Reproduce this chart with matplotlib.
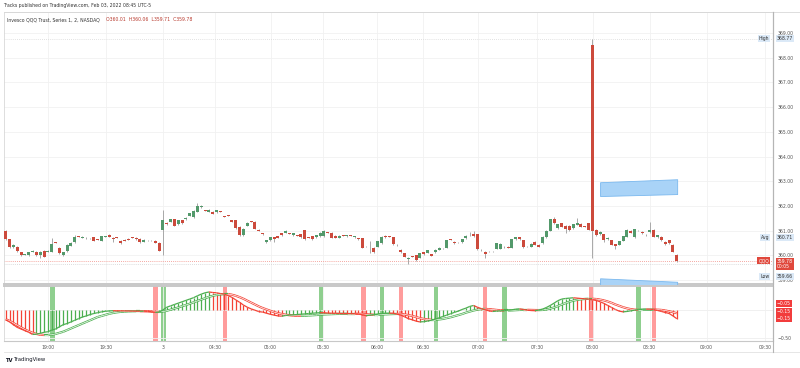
import matplotlib
matplotlib.use('Agg')
import matplotlib.pyplot as plt
from matplotlib.collections import LineCollection
from matplotlib.lines import Line2D
import numpy as np

# 1-minute QQQ candles (index based x axis, like TradingView)
opens = [360.99, 360.66, 360.33, 360.35, 360.13, 360.03, 360.01, 360.14, 360.15, 360.00,
         360.18, 360.14, 360.15, 360.53, 360.30, 360.01, 360.17, 360.38, 360.53, 360.76,
         360.72, 360.70, 360.69, 360.74, 360.65, 360.60, 360.76, 360.83, 360.72, 360.73,
         360.59, 360.64, 360.68, 360.73, 360.72, 360.67, 360.55, 360.62, 360.62, 360.59,
         360.51, 361.03, 361.31, 361.36, 361.46, 361.26, 361.43, 361.47, 361.60, 361.55,
         361.77, 361.95, 361.81, 361.77, 361.77, 361.74, 361.78, 361.58, 361.62, 361.43,
         361.43, 361.16, 360.82, 361.20, 361.37, 361.36, 361.04, 360.89, 360.53, 360.62,
         360.73, 360.77, 360.89, 360.91, 360.89, 360.82, 360.81, 360.85, 361.01, 360.72,
         360.78, 360.73, 360.77, 360.77, 360.92, 360.92, 360.80, 360.72, 360.80, 360.77,
         360.80, 360.73, 360.69, 360.69, 360.35, 360.55, 360.31, 360.35, 360.49, 360.80,
         360.76, 360.73, 360.42, 360.22, 360.08, 359.85, 359.95, 360.01, 359.91, 360.12,
         360.11, 360.05, 360.12, 360.22, 360.28, 360.31, 360.65, 360.54, 360.53, 360.53,
         360.69, 360.82, 360.85, 360.85, 360.22, 360.14, 360.15, 360.15, 360.26, 360.27,
         360.35, 360.35, 360.31, 360.65, 360.73, 360.62, 360.34, 360.34, 360.55, 360.42,
         360.49, 360.74, 360.99, 361.47, 361.09, 361.30, 361.20, 361.20, 361.09, 361.23,
         361.27, 361.17, 361.30, 368.51, 361.03, 360.85, 360.86, 360.65, 360.62, 360.45,
         360.42, 360.59, 360.76, 360.99, 360.73, 361.00, 360.96, 360.83, 360.93, 361.03,
         360.73, 360.76, 360.55, 360.62, 360.42, 360.01]
highs = [361.02, 360.68, 360.44, 360.37, 360.15, 360.06, 360.14, 360.21, 360.17, 360.17,
         360.20, 360.20, 360.69, 360.55, 360.32, 360.14, 360.44, 360.53, 360.82, 360.78,
         360.77, 360.75, 360.72, 360.76, 360.67, 360.79, 360.79, 360.86, 360.74, 360.75,
         360.61, 360.66, 360.70, 360.75, 360.74, 360.69, 360.66, 360.64, 360.64, 360.61,
         360.53, 361.84, 361.33, 361.49, 361.48, 361.45, 361.45, 361.55, 361.72, 361.84,
         362.10, 362.03, 361.83, 361.86, 361.79, 361.84, 361.80, 361.60, 361.64, 361.45,
         361.45, 361.18, 361.09, 361.33, 361.39, 361.38, 361.06, 360.91, 360.64, 360.75,
         360.75, 360.79, 360.91, 361.01, 360.91, 360.91, 360.83, 360.87, 361.03, 360.74,
         360.80, 360.83, 360.93, 361.01, 360.94, 360.94, 360.82, 360.82, 360.82, 360.84,
         360.82, 360.80, 360.71, 360.71, 360.37, 360.56, 360.33, 360.60, 360.78, 360.82,
         360.78, 360.75, 360.44, 360.24, 360.10, 359.93, 359.97, 360.03, 360.10, 360.14,
         360.22, 360.07, 360.25, 360.33, 360.30, 360.64, 360.67, 360.56, 360.55, 360.68,
         360.82, 360.95, 360.97, 360.87, 360.24, 360.16, 360.17, 360.17, 360.51, 360.48,
         360.37, 360.37, 360.68, 360.75, 360.75, 360.64, 360.36, 360.49, 360.57, 360.44,
         360.78, 361.02, 361.49, 361.56, 361.28, 361.32, 361.22, 361.22, 361.28, 361.50,
         361.29, 361.19, 361.32, 368.77, 361.05, 360.98, 360.88, 360.74, 360.64, 360.47,
         360.60, 360.80, 361.05, 361.01, 361.07, 361.02, 360.98, 360.85, 361.36, 361.05,
         360.84, 360.78, 360.57, 360.64, 360.44, 360.06]
lows = [360.62, 360.28, 360.30, 360.15, 359.98, 360.00, 359.99, 360.12, 359.99, 359.88,
        359.92, 360.12, 360.13, 360.48, 360.06, 359.99, 360.15, 360.36, 360.51, 360.73,
        360.70, 360.68, 360.67, 360.58, 360.62, 360.58, 360.74, 360.74, 360.55, 360.70,
        360.47, 360.56, 360.62, 360.71, 360.64, 360.50, 360.53, 360.60, 360.60, 360.48,
        360.16, 360.00, 361.24, 361.34, 361.18, 361.24, 361.28, 361.45, 361.58, 361.53,
        361.75, 361.93, 361.78, 361.75, 361.67, 361.72, 361.75, 361.55, 361.59, 361.34,
        361.07, 360.80, 360.80, 361.18, 361.34, 361.05, 360.97, 360.83, 360.51, 360.60,
        360.53, 360.70, 360.80, 360.89, 360.86, 360.80, 360.78, 360.71, 360.64, 360.69,
        360.63, 360.71, 360.75, 360.75, 360.89, 360.70, 360.70, 360.70, 360.77, 360.75,
        360.77, 360.71, 360.63, 360.29, 360.32, 360.08, 360.10, 360.33, 360.47, 360.71,
        360.73, 360.43, 360.39, 360.10, 359.93, 359.66, 359.92, 359.79, 359.89, 360.02,
        360.09, 359.97, 360.10, 360.20, 360.26, 360.29, 360.62, 360.47, 360.50, 360.51,
        360.67, 360.80, 360.76, 360.22, 360.19, 359.90, 360.12, 360.12, 360.24, 360.25,
        360.30, 360.29, 360.29, 360.63, 360.63, 360.30, 360.32, 360.32, 360.40, 360.33,
        360.47, 360.72, 360.97, 361.28, 361.07, 361.14, 360.90, 360.99, 361.07, 361.21,
        361.14, 361.14, 361.01, 359.90, 360.80, 360.83, 360.55, 360.63, 360.40, 360.24,
        360.40, 360.57, 360.74, 360.90, 360.71, 360.97, 360.87, 360.80, 360.91, 360.74,
        360.71, 360.60, 360.43, 360.47, 360.13, 359.71]
closes = [360.66, 360.35, 360.41, 360.18, 360.00, 360.04, 360.12, 360.18, 360.01, 360.15,
          359.95, 360.18, 360.45, 360.50, 360.08, 360.12, 360.42, 360.51, 360.73, 360.75,
          360.75, 360.72, 360.70, 360.60, 360.64, 360.77, 360.77, 360.76, 360.66, 360.72,
          360.49, 360.58, 360.64, 360.72, 360.66, 360.52, 360.64, 360.61, 360.61, 360.50,
          360.18, 361.44, 361.26, 361.47, 361.20, 361.43, 361.30, 361.53, 361.70, 361.80,
          362.01, 362.01, 361.80, 361.84, 361.69, 361.82, 361.77, 361.57, 361.61, 361.36,
          361.09, 360.82, 361.07, 361.31, 361.36, 361.07, 360.99, 360.85, 360.62, 360.73,
          360.65, 360.72, 360.82, 360.99, 360.88, 360.89, 360.80, 360.73, 360.66, 360.71,
          360.65, 360.81, 360.91, 360.99, 360.91, 360.72, 360.72, 360.80, 360.79, 360.82,
          360.79, 360.78, 360.65, 360.31, 360.34, 360.53, 360.12, 360.58, 360.76, 360.73,
          360.75, 360.45, 360.41, 360.12, 359.95, 359.88, 359.94, 359.81, 360.08, 360.04,
          360.20, 359.99, 360.23, 360.31, 360.28, 360.62, 360.64, 360.49, 360.52, 360.66,
          360.80, 360.82, 360.78, 360.24, 360.21, 360.07, 360.14, 360.14, 360.49, 360.46,
          360.32, 360.31, 360.66, 360.73, 360.65, 360.32, 360.34, 360.47, 360.42, 360.35,
          360.76, 361.00, 361.47, 361.30, 361.26, 361.16, 361.07, 361.01, 361.26, 361.30,
          361.16, 361.16, 361.03, 361.00, 360.82, 360.96, 360.62, 360.72, 360.42, 360.39,
          360.58, 360.78, 361.03, 360.92, 361.05, 360.99, 360.89, 360.82, 361.03, 360.76,
          360.82, 360.62, 360.45, 360.49, 360.15, 359.78]

# lower pane oscillator (histogram + line) and its signal line
osc = [-0.17, -0.21, -0.26, -0.31, -0.34, -0.37, -0.40, -0.44, -0.435, -0.42,
       -0.40, -0.39, -0.36, -0.34, -0.30, -0.26, -0.24, -0.21, -0.18, -0.15,
       -0.12, -0.10, -0.075, -0.055, -0.04, -0.025, -0.015, -0.008, -0.004, -0.005,
       -0.006, -0.008, -0.01, -0.011, -0.012, -0.014, -0.013, -0.016, -0.02, -0.035,
       -0.03, 0.01, 0.06, 0.085, 0.11, 0.135, 0.16, 0.185, 0.21, 0.235,
       0.27, 0.30, 0.325, 0.34, 0.33, 0.325, 0.31, 0.30, 0.275, 0.24,
       0.195, 0.15, 0.10, 0.06, 0.03, 0.005, -0.02, -0.03, -0.05, -0.07,
       -0.085, -0.10, -0.105, -0.092, -0.085, -0.08, -0.074, -0.068, -0.062, -0.056,
       -0.05, -0.045, -0.04, -0.042, -0.046, -0.05, -0.052, -0.055, -0.056, -0.057,
       -0.058, -0.06, -0.065, -0.08, -0.095, -0.085, -0.075, -0.065, -0.055, -0.05,
       -0.048, -0.05, -0.065, -0.085, -0.115, -0.15, -0.17, -0.195, -0.21, -0.205,
       -0.195, -0.18, -0.16, -0.135, -0.11, -0.085, -0.06, -0.035, -0.012, 0.018,
       0.043, 0.074, 0.092, 0.06, 0.035, 0.012, -0.006, -0.018, -0.012, -0.006,
       0.0, 0.006, 0.012, 0.025, 0.03, 0.018, 0.006, 0.0, -0.002, 0.006,
       0.025, 0.055, 0.092, 0.135, 0.18, 0.21, 0.22, 0.227, 0.233, 0.227,
       0.22, 0.215, 0.21, 0.196, 0.184, 0.16, 0.13, 0.092, 0.055, 0.018,
       -0.012, -0.025, -0.018, -0.006, 0.006, 0.018, 0.025, 0.026, 0.024, 0.018,
       0.0, -0.018, -0.037, -0.055, -0.10, -0.15]
signal = [-0.16, -0.19, -0.23, -0.27, -0.31, -0.35, -0.38, -0.41, -0.43, -0.445,
          -0.45, -0.45, -0.445, -0.43, -0.41, -0.39, -0.36, -0.33, -0.30, -0.27,
          -0.24, -0.21, -0.18, -0.15, -0.12, -0.10, -0.08, -0.06, -0.045, -0.033,
          -0.025, -0.02, -0.016, -0.014, -0.013, -0.013, -0.014, -0.016, -0.02, -0.025,
          -0.027, -0.02, -0.005, 0.015, 0.035, 0.055, 0.08, 0.10, 0.125, 0.15,
          0.175, 0.20, 0.225, 0.25, 0.27, 0.285, 0.295, 0.30, 0.30, 0.29,
          0.27, 0.245, 0.215, 0.18, 0.145, 0.11, 0.075, 0.045, 0.02, -0.005,
          -0.03, -0.05, -0.065, -0.078, -0.087, -0.093, -0.097, -0.098, -0.096, -0.092,
          -0.088, -0.083, -0.078, -0.073, -0.07, -0.067, -0.064, -0.062, -0.061, -0.06,
          -0.06, -0.06, -0.061, -0.064, -0.07, -0.075, -0.077, -0.077, -0.075, -0.072,
          -0.068, -0.065, -0.063, -0.065, -0.072, -0.085, -0.10, -0.12, -0.14, -0.155,
          -0.165, -0.17, -0.17, -0.165, -0.155, -0.14, -0.125, -0.105, -0.085, -0.065,
          -0.04, -0.02, 0.0, 0.015, 0.025, 0.028, 0.025, 0.018, 0.01, 0.004,
          0.0, 0.0, 0.002, 0.006, 0.01, 0.012, 0.012, 0.01, 0.008, 0.007,
          0.01, 0.02, 0.035, 0.055, 0.08, 0.11, 0.135, 0.16, 0.18, 0.195,
          0.205, 0.212, 0.215, 0.215, 0.21, 0.20, 0.185, 0.165, 0.14, 0.11,
          0.085, 0.06, 0.04, 0.025, 0.015, 0.01, 0.01, 0.012, 0.015, 0.016,
          0.015, 0.01, 0.0, -0.015, -0.03, -0.05]

# signal bars (vertical bands in the lower pane), bar index
stripe_up = [12.2, 41.1, 82.2, 98.1, 112.2, 130.0, 165.0]
stripe_down = [39.1, 57.2, 93.3, 103.1, 125.0, 152.8, 169.1]

# time axis
time_pos = [11.1, 26.2, 41.0, 54.6, 69.1, 82.8, 96.8, 108.9, 123.2, 138.5, 153.1, 167.9, 182.8, 198.0]
time_labels = ['19:00', '19:30', '3', '04:30', '05:00', '05:30', '06:00', '06:30',
               '07:00', '07:30', '08:00', '08:30', '09:00', '09:30']

# user drawings (blue bands): bar index / price
band_x = [155.0, 175.1]
band1_lo = [362.40, 362.48]
band1_hi = [362.96, 363.08]
band2_lo = [358.50, 358.50]
band2_hi = [359.07, 358.93]

price_high, price_avg, price_last, price_low = 368.77, 360.71, 359.78, 359.66

UP = '#53996b'
DOWN = '#cc4a3c'
G = '#4caf50'
R = '#f44336'
TXT = '#555555'
FS = 3.35

plt.rcParams['font.family'] = ['DejaVu Sans']

fig = plt.figure(figsize=(8, 3.68), dpi=100)
ax = fig.add_axes([0.005, 0.2283, 0.9613, 0.7391])
axi = fig.add_axes([0.005, 0.0734, 0.9613, 0.1495], sharex=ax)

x = np.arange(len(closes))
o = np.array(opens)
c = np.array(closes)
col = [UP if c[i] >= o[i] else DOWN for i in range(len(c))]

# candles
ax.vlines(x, lows, highs, color='#a8a8a8', lw=0.7, zorder=2)
body_lo = np.minimum(o, c)
body_h = np.maximum(np.abs(c - o), 0.015)
ax.bar(x, body_h, bottom=body_lo, width=0.78, color=col, lw=0, zorder=3)

ax.set_xlim(-0.44, 200.1)
ax.set_ylim(358.84, 369.85)

for sp in ['top', 'left']:
    ax.spines[sp].set_color('#d8d8d8')
    ax.spines[sp].set_linewidth(0.6)
ax.spines['right'].set_color('#b5b5b5')
ax.spines['right'].set_linewidth(0.8)
ax.spines['bottom'].set_color('#c8c8c8')
ax.spines['bottom'].set_linewidth(1.4)

ax.yaxis.tick_right()
ax.set_yticks(range(359, 370))
ax.set_yticklabels(['%.2f' % v for v in range(359, 370)])
ax.tick_params(axis='y', length=0, pad=3.5, labelsize=FS, labelcolor=TXT)
ax.tick_params(axis='x', length=0, labelbottom=False)
ax.set_xticks(time_pos)
ax.grid(True, color='#f1f1f1', lw=0.6, zorder=0)
ax.set_axisbelow(True)

# price lines
ax.axhline(price_last, color='#f28b82', lw=0.6, ls=(0, (1, 1.5)), zorder=1)
ax.axhline(price_low, color='#d0d0d0', lw=0.6, ls=(0, (1, 1.5)), zorder=1)
ax.axhline(price_high, color='#d8d8d8', lw=0.6, ls=(0, (1, 1.5)), zorder=1)

# blue drawings
ax.fill_between(band_x, band1_lo, band1_hi, color='#a9d3f7', edgecolor='#7ab8ee', lw=0.6, zorder=4)
ax.fill_between(band_x, band2_lo, band2_hi, color='#a9d3f7', edgecolor='#7ab8ee', lw=0.6, zorder=4)

# right side labels
ytr = ax.get_yaxis_transform()
def tag(y, val, name, fc, tc, yv=None):
    ax.text(1.005, y if yv is None else yv, val, transform=ytr, fontsize=FS, color=tc,
            va='center', ha='left', linespacing=1.1,
            bbox=dict(boxstyle='square,pad=0.22', fc=fc, ec='none'), clip_on=False, zorder=10)
    ax.text(0.995, y, name, transform=ytr, fontsize=FS, color=tc, va='center', ha='right',
            bbox=dict(boxstyle='square,pad=0.22', fc=fc, ec='none'), clip_on=False, zorder=10)

tag(price_high, '%.2f' % price_high, 'High', '#dbe9f7', '#333333')
tag(price_avg, '%.2f' % price_avg, 'Avg', '#dbe9f7', '#333333')
tag(price_last, '%.2f\n00:05' % price_last, 'QQQ', '#e0483c', 'white', yv=price_last - 0.14)
tag(price_last - 0.64, '%.2f' % price_low, 'Low', '#dbe9f7', '#333333')

# legend text
ax.text(0.004, 0.972, 'Invesco QQQ Trust, Series 1, 2, NASDAQ', transform=ax.transAxes,
        fontsize=FS, color='#333333', va='center')
ohlc = 'O%.2f  H%.2f  L%.2f  C%.2f' % (opens[-1], highs[-1], lows[-1], closes[-1])
ax.text(0.132, 0.972, ohlc, transform=ax.transAxes, fontsize=FS, color='#b83a2e', va='center')

# lower pane
for p in stripe_up:
    axi.axvspan(p - 0.6, p + 0.6, color='#8fcf8f', lw=0, zorder=0)
for p in stripe_down:
    axi.axvspan(p - 0.6, p + 0.6, color='#ff9c9c', lw=0, zorder=0)

ov = np.array(osc)
sv = np.array(signal)
hcol = [R] + [G if ov[i] >= ov[i - 1] else R for i in range(1, len(ov))]
scol = [R] + [G if sv[i] >= sv[i - 1] else R for i in range(1, len(sv))]
axi.vlines(x, 0, ov, colors=hcol, lw=0.9, zorder=2)

seg_o = [[(x[i - 1], ov[i - 1]), (x[i], ov[i])] for i in range(1, len(ov))]
seg_s = [[(x[i - 1], sv[i - 1]), (x[i], sv[i])] for i in range(1, len(sv))]
axi.add_collection(LineCollection(seg_s, colors=scol[1:], lw=1.6, zorder=3))
axi.add_collection(LineCollection(seg_s, colors='white', lw=0.5, zorder=4))
axi.add_collection(LineCollection(seg_o, colors=hcol[1:], lw=0.9, zorder=5))

axi.set_ylim(-0.56, 0.45)
axi.yaxis.tick_right()
axi.set_yticks([-0.5])
axi.set_yticklabels(['\u22120.50'])
axi.tick_params(axis='y', length=0, pad=3.5, labelsize=FS, labelcolor=TXT)
axi.set_xticks(time_pos)
axi.set_xticklabels(time_labels)
axi.tick_params(axis='x', length=0, pad=3.0, labelsize=FS, labelcolor=TXT)
axi.grid(True, axis='x', color='#f1f1f1', lw=0.6, zorder=0)
axi.axhline(0, color='#eeeeee', lw=0.6, zorder=0)
axi.axhline(-0.5, color='#eeeeee', lw=0.6, zorder=0)
axi.spines['top'].set_color('#c8c8c8')
axi.spines['top'].set_linewidth(1.4)
axi.spines['left'].set_color('#d8d8d8')
axi.spines['left'].set_linewidth(0.6)
axi.spines['right'].set_color('#b5b5b5')
axi.spines['right'].set_linewidth(0.8)
axi.spines['bottom'].set_color('#c8c8c8')
axi.spines['bottom'].set_linewidth(0.8)

itr = axi.get_yaxis_transform()
for yv, s in [(0.12, signal[-1]), (-0.01, osc[-1]), (-0.14, osc[-1])]:
    axi.text(1.005, yv, ('%.2f' % s).replace('-', '\u2212'), transform=itr, fontsize=FS,
             color='white', va='center', ha='left',
             bbox=dict(boxstyle='square,pad=0.22', fc='#f23c3c', ec='none'), clip_on=False)

# frame lines outside the panes
fig.add_artist(Line2D([0.005, 1.0], [1 - 12 / 368, 1 - 12 / 368], color='#d8d8d8', lw=0.6))
fig.add_artist(Line2D([0.005, 1.0], [1 - 352 / 368, 1 - 352 / 368], color='#e2e2e2', lw=0.6))
fig.add_artist(Line2D([0.9663, 0.9663], [1 - 352 / 368, 1 - 12 / 368], color='#b5b5b5', lw=0.8))

fig.text(0.004, 1 - 6 / 368, 'Tracks published on TradingView.com, Feb 03, 2022 08:45 UTC-5',
         fontsize=FS, color='#333333', va='center')
fig.text(0.006, 1 - 360 / 368, 'TV', fontsize=3.8, weight='bold', color='#131722', va='center')
fig.text(0.018, 1 - 360 / 368, 'TradingView', fontsize=3.8, color='#131722', va='center')

fig.savefig('out.png', dpi=100, facecolor='white')
